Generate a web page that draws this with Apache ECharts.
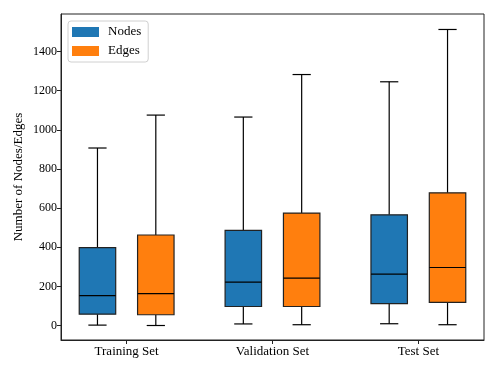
<!DOCTYPE html>
<html>
<head>
<meta charset="utf-8">
<script src="https://cdn.jsdelivr.net/npm/echarts@6/dist/echarts.min.js"></script>
<style>
  html, body { margin: 0; padding: 0; background: #fff; }
  #chart { width: 498px; height: 374px; }
</style>
</head>
<body>
<div id="chart"></div>
<script>
// box stats per set: [min, Q1, median, Q3, max]
const categories = ['Training Set', 'Validation Set', 'Test Set'];
const nodeStats = [
  [3, 59, 154, 398, 907],
  [9, 98, 222, 487, 1065],
  [10, 113, 263, 566, 1245]
];
const edgeStats = [
  [1, 56, 164, 463, 1075],
  [5, 98, 243, 575, 1282],
  [5, 119, 297, 678, 1512]
];
const yTicks = [0, 200, 400, 600, 800, 1000, 1200, 1400];
const xPositions = [1, 2, 3];

const FONT = '"Liberation Serif", "DejaVu Serif", serif';
const BOX_W = 0.25;
const SHIFT = 0.2;

const toData = (stats, shift) => stats.map((s, i) => [xPositions[i] + shift].concat(s));

const renderBox = (params, api) => {
  var x = api.value(0);
  var lo = api.coord([x, api.value(1)]);
  var q1 = api.coord([x, api.value(2)]);
  var md = api.coord([x, api.value(3)]);
  var q3 = api.coord([x, api.value(4)]);
  var hi = api.coord([x, api.value(5)]);
  var w = api.size([BOX_W, 0])[0];
  var cx = lo[0];
  var line = { stroke: '#000', lineWidth: 1.2 };
  return {
    type: 'group',
    children: [
      { type: 'line', shape: { x1: cx, y1: q1[1], x2: cx, y2: lo[1] }, style: line },
      { type: 'line', shape: { x1: cx, y1: q3[1], x2: cx, y2: hi[1] }, style: line },
      { type: 'line', shape: { x1: cx - w / 4, y1: lo[1], x2: cx + w / 4, y2: lo[1] }, style: line },
      { type: 'line', shape: { x1: cx - w / 4, y1: hi[1], x2: cx + w / 4, y2: hi[1] }, style: line },
      {
        type: 'rect',
        shape: { x: cx - w / 2, y: q3[1], width: w, height: q1[1] - q3[1] },
        style: { fill: api.visual('color'), stroke: '#222', lineWidth: 1.2 }
      },
      { type: 'line', shape: { x1: cx - w / 2, y1: md[1], x2: cx + w / 2, y2: md[1] }, style: line }
    ]
  };
};

var myChart = echarts.init(document.getElementById('chart'));
var option = {
  backgroundColor: '#fff',
  animation: false,
  textStyle: { fontFamily: FONT, color: '#000' },
  grid: {
    left: 61, right: 14, top: 14, bottom: 34,
    show: true, borderColor: '#222', borderWidth: 1, backgroundColor: 'transparent'
  },
  legend: {
    orient: 'vertical',
    left: 68, top: 21,
    itemWidth: 27, itemHeight: 10, itemGap: 5,
    padding: [4, 7, 4, 4],
    icon: 'rect',
    backgroundColor: 'rgba(255,255,255,0.8)',
    borderColor: '#d0d0d0', borderWidth: 1, borderRadius: 3,
    textStyle: { fontFamily: FONT, fontSize: 13, color: '#000', lineHeight: 14, padding: [0, 0, 0, 4] },
    data: ['Nodes', 'Edges']
  },
  xAxis: {
    type: 'value',
    min: 0.55, max: 3.45,
    axisLine: { show: true, onZero: false, lineStyle: { color: '#222', width: 1 } },
    axisTick: { show: true, length: 4, customValues: xPositions, lineStyle: { color: '#222' } },
    axisLabel: {
      customValues: xPositions,
      formatter: (v) => categories[Math.round(v) - 1],
      fontFamily: FONT, fontSize: 13, color: '#000', margin: 5
    },
    splitLine: { show: false }
  },
  yAxis: {
    type: 'value',
    min: -73, max: 1591,
    name: 'Number of Nodes/Edges',
    nameLocation: 'middle',
    nameGap: 36,
    nameRotate: 90,
    nameMoveOverlap: false,
    nameTextStyle: { fontFamily: FONT, fontSize: 13, color: '#000' },
    axisLine: { show: true, onZero: false, lineStyle: { color: '#222', width: 1 } },
    axisTick: { show: true, length: 4, customValues: yTicks, lineStyle: { color: '#222' } },
    axisLabel: {
      customValues: yTicks,
      formatter: (v) => String(v),
      fontFamily: FONT, fontSize: 12, color: '#000', margin: 4
    },
    splitLine: { show: false }
  },
  series: [
    {
      name: 'Nodes', type: 'custom',
      itemStyle: { color: '#1f77b4' },
      encode: { x: 0, y: [1, 2, 3, 4, 5] },
      renderItem: renderBox,
      data: toData(nodeStats, -SHIFT)
    },
    {
      name: 'Edges', type: 'custom',
      itemStyle: { color: '#ff7f0e' },
      encode: { x: 0, y: [1, 2, 3, 4, 5] },
      renderItem: renderBox,
      data: toData(edgeStats, SHIFT)
    }
  ]
};
myChart.setOption(option);
</script>
</body>
</html>
